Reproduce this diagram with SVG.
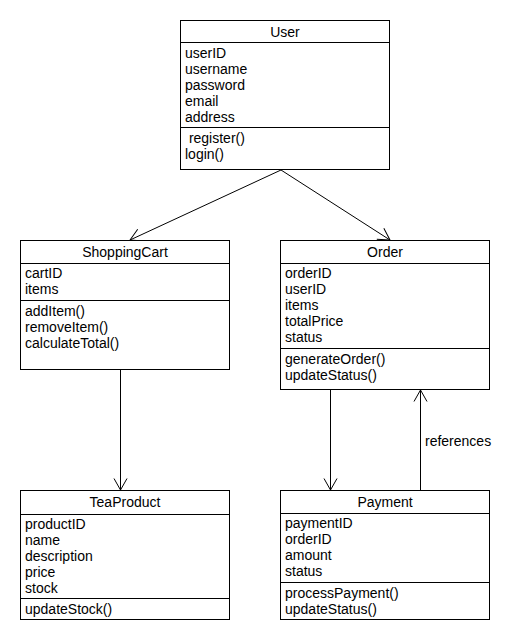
<svg xmlns="http://www.w3.org/2000/svg" width="520" height="640" viewBox="0 0 520 640">
<style>
.box{fill:#fff;stroke:#000;stroke-width:1}
.div{stroke:#000;stroke-width:1}
text{font-family:"Liberation Sans",Arial,sans-serif;font-size:14px;fill:#000}
.title{text-anchor:middle}
.edge{stroke:#000;stroke-width:1;fill:none}
</style>
<defs>
<marker id="open" markerUnits="userSpaceOnUse" viewBox="-13 -8 15 16" markerWidth="15" markerHeight="16" refX="0" refY="0" orient="auto">
<path d="M -11.5 -6.5 L 0 0 L -11.5 6.5" fill="none" stroke="#000" stroke-width="1"/>
</marker>
</defs>
<rect width="520" height="640" fill="#fff"/>
<g id="connectors">
<line class="edge" x1="281" y1="170" x2="130" y2="240" marker-end="url(#open)"/>
<line class="edge" x1="281" y1="170" x2="390" y2="240" marker-end="url(#open)"/>
<line class="edge" x1="120.5" y1="370" x2="120.5" y2="490" marker-end="url(#open)"/>
<line class="edge" x1="330.5" y1="390" x2="330.5" y2="490" marker-end="url(#open)"/>
<line class="edge" x1="420.5" y1="490" x2="420.5" y2="390" marker-end="url(#open)"/>
<text x="425" y="446">references</text>
</g>
<g id="User">
<rect class="box" x="180.5" y="20.5" width="209" height="149"/>
<line class="div" x1="180" y1="42.5" x2="390" y2="42.5"/>
<line class="div" x1="180" y1="127.5" x2="390" y2="127.5"/>
<text class="title" x="285" y="37">User</text>
<text x="185" y="58">userID</text>
<text x="185" y="74">username</text>
<text x="185" y="90">password</text>
<text x="185" y="106">email</text>
<text x="185" y="122">address</text>
<text x="185" y="143" xml:space="preserve"> register()</text>
<text x="185" y="159">login()</text>
</g>
<g id="ShoppingCart">
<rect class="box" x="20.5" y="240.5" width="209" height="129"/>
<line class="div" x1="20" y1="263.5" x2="230" y2="263.5"/>
<line class="div" x1="20" y1="300.5" x2="230" y2="300.5"/>
<text class="title" x="125" y="257">ShoppingCart</text>
<text x="25" y="278">cartID</text>
<text x="25" y="294">items</text>
<text x="25" y="316">addItem()</text>
<text x="25" y="332">removeItem()</text>
<text x="25" y="348">calculateTotal()</text>
</g>
<g id="Order">
<rect class="box" x="280.5" y="240.5" width="209" height="149"/>
<line class="div" x1="280" y1="263.5" x2="490" y2="263.5"/>
<line class="div" x1="280" y1="348.5" x2="490" y2="348.5"/>
<text class="title" x="385" y="257">Order</text>
<text x="285" y="278">orderID</text>
<text x="285" y="294">userID</text>
<text x="285" y="310">items</text>
<text x="285" y="326">totalPrice</text>
<text x="285" y="342">status</text>
<text x="285" y="364">generateOrder()</text>
<text x="285" y="380">updateStatus()</text>
</g>
<g id="TeaProduct">
<rect class="box" x="20.5" y="490.5" width="209" height="129"/>
<line class="div" x1="20" y1="514.5" x2="230" y2="514.5"/>
<line class="div" x1="20" y1="598.5" x2="230" y2="598.5"/>
<text class="title" x="125" y="507">TeaProduct</text>
<text x="25" y="529">productID</text>
<text x="25" y="545">name</text>
<text x="25" y="561">description</text>
<text x="25" y="577">price</text>
<text x="25" y="593">stock</text>
<text x="25" y="614">updateStock()</text>
</g>
<g id="Payment">
<rect class="box" x="280.5" y="490.5" width="209" height="129"/>
<line class="div" x1="280" y1="513.5" x2="490" y2="513.5"/>
<line class="div" x1="280" y1="582.5" x2="490" y2="582.5"/>
<text class="title" x="385" y="507">Payment</text>
<text x="285" y="528">paymentID</text>
<text x="285" y="544">orderID</text>
<text x="285" y="560">amount</text>
<text x="285" y="576">status</text>
<text x="285" y="598">processPayment()</text>
<text x="285" y="614">updateStatus()</text>
</g>
</svg>
